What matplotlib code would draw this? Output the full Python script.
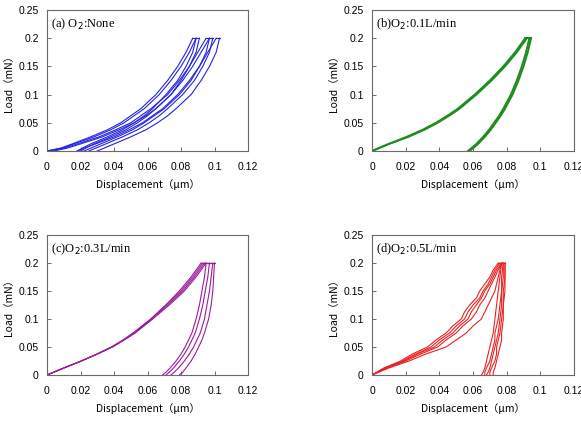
import matplotlib
matplotlib.use("Agg")
import matplotlib.pyplot as plt

# ---------------- data ----------------
LOAD = [0, 0.005, 0.0125, 0.025, 0.0375, 0.05, 0.0625, 0.075, 0.1, 0.125, 0.15, 0.175, 0.2]
D_LOAD = [0, 0.0125, 0.025, 0.0375, 0.05, 0.0625, 0.075, 0.0875, 0.1,
          0.1125, 0.125, 0.1375, 0.15, 0.1625, 0.175, 0.1875, 0.2]

x_ticks = [0, 0.02, 0.04, 0.06, 0.08, 0.1, 0.12]
x_tick_labels = ["0", "0.02", "0.04", "0.06", "0.08", "0.1", "0.12"]
y_ticks = [0, 0.05, 0.1, 0.15, 0.2, 0.25]
y_tick_labels = ["0", "0.05", "0.1", "0.15", "0.2", "0.25"]

titles = ["(a) O$_2$:None", "(b)O$_2$:0.1L/min", "(c)O$_2$:0.3L/min", "(d)O$_2$:0.5L/min"]
colors = ["#2424DC", "#1E8C1E", "#9B1B9B", "#E82222"]

# (a) O2: None
a_load = [
    [0.000, 0.008, 0.015, 0.026, 0.036, 0.044, 0.050, 0.056, 0.065, 0.072, 0.078, 0.083, 0.087],
    [0.000, 0.009, 0.016, 0.028, 0.038, 0.046, 0.052, 0.058, 0.067, 0.074, 0.080, 0.085, 0.089],
    [0.001, 0.010, 0.018, 0.031, 0.041, 0.050, 0.056, 0.062, 0.072, 0.079, 0.085, 0.090, 0.095],
    [0.004, 0.012, 0.020, 0.033, 0.043, 0.052, 0.059, 0.065, 0.074, 0.081, 0.087, 0.092, 0.097],
    [0.018, 0.022, 0.029, 0.040, 0.049, 0.057, 0.063, 0.069, 0.078, 0.085, 0.091, 0.096, 0.101],
]
a_unload = [
    [0.018, 0.021, 0.026, 0.036, 0.045, 0.052, 0.058, 0.063, 0.071, 0.078, 0.083, 0.087, 0.089],
    [0.020, 0.023, 0.028, 0.038, 0.047, 0.054, 0.060, 0.065, 0.074, 0.080, 0.085, 0.089, 0.091],
    [0.022, 0.026, 0.032, 0.042, 0.051, 0.058, 0.064, 0.070, 0.079, 0.086, 0.091, 0.095, 0.097],
    [0.025, 0.029, 0.035, 0.045, 0.054, 0.061, 0.067, 0.072, 0.081, 0.088, 0.093, 0.097, 0.099],
    [0.030, 0.034, 0.040, 0.050, 0.059, 0.066, 0.072, 0.077, 0.086, 0.092, 0.097, 0.101, 0.103],
]

# (b) O2: 0.1 L/min
b_load = [
    [0.000, 0.004, 0.010, 0.0205, 0.030, 0.038, 0.0448, 0.051, 0.061, 0.070, 0.078, 0.085, 0.091],
    [0.000, 0.004, 0.010, 0.0215, 0.031, 0.039, 0.0458, 0.052, 0.062, 0.071, 0.079, 0.086, 0.092],
]
b_unload = [
    [0.057, 0.059, 0.062, 0.066, 0.0695, 0.0725, 0.0755, 0.078, 0.0825, 0.086, 0.089, 0.0915, 0.0935],
    [0.058, 0.060, 0.063, 0.067, 0.0705, 0.0735, 0.0765, 0.079, 0.0835, 0.087, 0.090, 0.0925, 0.0945],
]

# (c) O2: 0.3 L/min
c_load = [
    [0.000, 0.004, 0.010, 0.0205, 0.030, 0.0385, 0.0455, 0.0515, 0.062, 0.071, 0.079, 0.086, 0.092],
    [0.000, 0.004, 0.010, 0.0205, 0.030, 0.0385, 0.0455, 0.0515, 0.062, 0.071, 0.080, 0.087, 0.093],
    [0.000, 0.004, 0.010, 0.0205, 0.030, 0.0390, 0.0460, 0.0525, 0.063, 0.072, 0.081, 0.088, 0.094],
    [0.000, 0.004, 0.010, 0.0205, 0.030, 0.0390, 0.0460, 0.0525, 0.063, 0.073, 0.082, 0.089, 0.095],
]
c_unload = [
    [0.069, 0.071, 0.0735, 0.077, 0.080, 0.0825, 0.0845, 0.0865, 0.089, 0.091, 0.0925, 0.094, 0.095],
    [0.071, 0.073, 0.0755, 0.079, 0.082, 0.0845, 0.0865, 0.0885, 0.091, 0.093, 0.0945, 0.096, 0.097],
    [0.074, 0.076, 0.0785, 0.082, 0.085, 0.0875, 0.0895, 0.0915, 0.094, 0.0955, 0.097, 0.098, 0.099],
    [0.079, 0.081, 0.083, 0.086, 0.0885, 0.0905, 0.0925, 0.094, 0.0965, 0.098, 0.099, 0.0995, 0.100],
]

# (d) O2: 0.5 L/min (loading read on a finer load grid)
d_load = [
    [0.000, 0.007, 0.017, 0.024, 0.033, 0.038, 0.044, 0.048, 0.053, 0.055, 0.058, 0.062, 0.064, 0.067, 0.070, 0.072, 0.075],
    [0.000, 0.008, 0.018, 0.026, 0.035, 0.040, 0.046, 0.050, 0.055, 0.057, 0.060, 0.064, 0.066, 0.069, 0.071, 0.073, 0.076],
    [0.000, 0.008, 0.019, 0.027, 0.037, 0.042, 0.048, 0.052, 0.057, 0.059, 0.062, 0.065, 0.067, 0.070, 0.072, 0.074, 0.077],
    [0.000, 0.009, 0.020, 0.029, 0.039, 0.044, 0.050, 0.054, 0.059, 0.062, 0.064, 0.067, 0.069, 0.071, 0.073, 0.075, 0.077],
    [0.000, 0.010, 0.022, 0.032, 0.044, 0.050, 0.056, 0.060, 0.065, 0.067, 0.069, 0.071, 0.073, 0.074, 0.075, 0.076, 0.077],
]
d_unload = [
    [0.065, 0.066, 0.067, 0.068, 0.069, 0.070, 0.071, 0.072, 0.073, 0.074, 0.075, 0.076, 0.077],
    [0.067, 0.067, 0.068, 0.070, 0.071, 0.072, 0.073, 0.073, 0.075, 0.076, 0.077, 0.077, 0.078],
    [0.068, 0.069, 0.070, 0.071, 0.072, 0.073, 0.074, 0.075, 0.076, 0.077, 0.077, 0.078, 0.078],
    [0.070, 0.070, 0.071, 0.073, 0.074, 0.074, 0.075, 0.076, 0.077, 0.078, 0.078, 0.079, 0.079],
    [0.072, 0.072, 0.073, 0.074, 0.075, 0.076, 0.077, 0.077, 0.078, 0.078, 0.079, 0.079, 0.079],
]

# ---------------- plotting ----------------
fig = plt.figure(figsize=(5.81, 4.25), dpi=100)
W, H = 581.0, 425.0
# axes boxes in pixels: (left, top, right, bottom)
boxes = [(47, 10, 248, 151), (372, 10, 574, 151),
         (47, 235, 248, 375), (372, 235, 574, 375)]

panels = [
    (a_load, LOAD, a_unload, LOAD, 0.8),
    (b_load, LOAD, b_unload, LOAD, 1.4),
    (c_load, LOAD, c_unload, LOAD, 0.8),
    (d_load, D_LOAD, d_unload, LOAD, 0.8),
]

label_font = ["Noto Sans CJK JP", "DejaVu Sans"]
tick_font = "Liberation Sans"

for i, (box, panel) in enumerate(zip(boxes, panels)):
    l, t, r, b = box
    ax = fig.add_axes([l / W, 1 - b / H, (r - l) / W, (b - t) / H])
    loads, load_y, unloads, unload_y, lw = panel
    col = colors[i]
    for ld, ul in zip(loads, unloads):
        ax.plot(ld, load_y, color=col, lw=lw, solid_joinstyle="round")
        # hold at peak load
        ax.plot([ld[-1], ul[-1]], [load_y[-1], unload_y[-1]], color=col, lw=lw)
        ax.plot(ul, unload_y, color=col, lw=lw, solid_joinstyle="round")

    ax.set_xlim(0, 0.12)
    ax.set_ylim(0, 0.25)
    ax.set_xticks(x_ticks)
    ax.set_xticklabels(x_tick_labels, fontsize=7.5, family=tick_font)
    ax.set_yticks(y_ticks)
    ax.set_yticklabels(y_tick_labels, fontsize=7.5, family=tick_font)
    ax.tick_params(direction="in", length=3, width=0.6, color="#555555", pad=6)
    ax.tick_params(axis="x", pad=8)
    for sp in ax.spines.values():
        sp.set_color("#6a6a6a")
        sp.set_linewidth(0.8)
    ax.set_xlabel("Displacement（μm）", fontsize=7.5, family=label_font, labelpad=5)
    ax.set_ylabel("Load（mN）", fontsize=7.5, family=label_font, labelpad=3)
    ax.text(0.02, 0.90, titles[i], transform=ax.transAxes, fontsize=9,
            family="Liberation Serif", ha="left", va="center")

fig.savefig("out.png", dpi=100)
